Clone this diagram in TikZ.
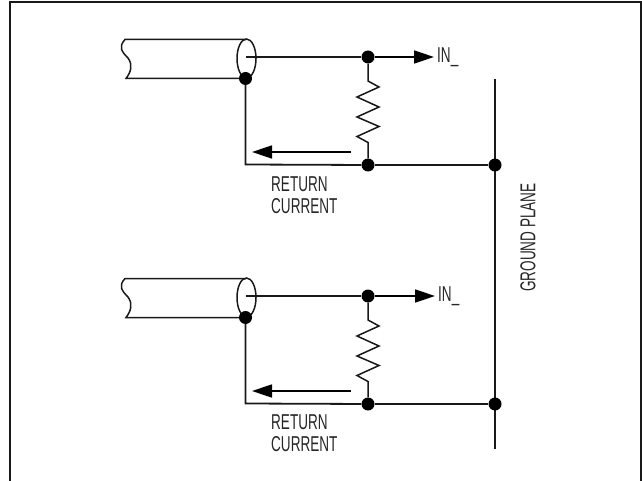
\documentclass[tikz,border=0pt]{standalone}
\usepackage{fontspec}
\usetikzlibrary{arrows.meta}
\newfontfamily\narrowfont[FakeStretch=0.63]{Liberation Sans}
\tikzset{
    dot/.style={circle, fill=black, inner sep=0pt, minimum size=13pt},
    wire/.style={line width=1.8pt, black!90},
    thinwire/.style={line width=1.5pt, black!90},
    feed/.style={-{Triangle[length=20pt, width=13pt]}, line width=1.5pt},
    label/.style={font=\narrowfont\fontsize{21.5}{22}\selectfont, text=black!85, inner sep=0pt}
}

\begin{document}
\begin{tikzpicture}[x=1pt, y=-1pt]
    \useasboundingbox (0,0) rectangle (642,481);
    \def\shift{239}

    % frame, open at the bottom
    \draw[line width=2pt, black!90] (10,481) -- (10,2) -- (641,2) -- (641,481);

    % ground plane
    \coordinate (gndtop) at (495,79);
    \coordinate (gndend) at (495,449);
    \draw[thinwire] (gndtop) -- (gndend);
    \node[label, rotate=90] (gndlabel) at (528,237.5) {GROUND PLANE};

    % upper cable
    \begin{scope}
        \draw[thinwire] (246,39.5) -- (125,39.5) .. controls (118,47) and (122,52) .. (128,58)
            .. controls (133,65) and (131,72) .. (126,78.5) -- (246,78.5);
        \draw[thinwire] (246.5,58.5) ellipse [x radius=9.5pt, y radius=19.5pt];
        \node[dot] (shieldA) at (245.5,78.5) {};
        \node[dot] (sigA) at (368,57) {};
        \node[dot] (loadA) at (368,165) {};
        \node[dot] (gndA) at (495,165) {};
        \coordinate (coreA) at (246,57);
        \coordinate (inA) at (434,57);
        \coordinate (cornerA) at (245.5,164.5);
        \coordinate (retA) at (351,152);
        \coordinate (rettipA) at (252,152);

        \draw[thinwire] (coreA) -- (sigA);
        \draw[feed] (sigA) -- (inA);
        \node[label, anchor=west] (inlabelA) at (437,57) {IN\_};
        \draw[wire] (shieldA) -- (cornerA) -- (loadA);
        \draw[wire] (loadA) -- (gndA);
        \draw[thinwire] (sigA) -- ++(0,24) -- ++(11,6) -- ++(-22,10) -- ++(22,10) -- ++(-22,10)
            -- ++(22,9.5) -- ++(-22,10) -- ++(11,6) -- (loadA);
        \draw[feed] (retA) -- (rettipA);
        \node[label, anchor=north west, align=left] (retlabelA) at (271,176.5) {RETURN\\CURRENT};
    \end{scope}

    % lower cable
    \begin{scope}[yshift=-\shift pt]
        \draw[thinwire] (246,39.5) -- (125,39.5) .. controls (118,47) and (122,52) .. (128,58)
            .. controls (133,65) and (131,72) .. (126,78.5) -- (246,78.5);
        \draw[thinwire] (246.5,58.5) ellipse [x radius=9.5pt, y radius=19.5pt];
        \node[dot] (shieldB) at (245.5,78.5) {};
        \node[dot] (sigB) at (368,57) {};
        \node[dot] (loadB) at (368,165) {};
        \node[dot] (gndB) at (495,165) {};
        \coordinate (coreB) at (246,57);
        \coordinate (inB) at (435,57);
        \coordinate (cornerB) at (245.5,164.5);
        \coordinate (retB) at (351,152);
        \coordinate (rettipB) at (252,152);

        \draw[thinwire] (coreB) -- (sigB);
        \draw[feed] (sigB) -- (inB);
        \node[label, anchor=west] (inlabelB) at (438,57) {IN\_};
        \draw[wire] (shieldB) -- (cornerB) -- (loadB);
        \draw[wire] (loadB) -- (gndB);
        \draw[thinwire] (sigB) -- ++(0,24) -- ++(11,6) -- ++(-22,10) -- ++(22,10) -- ++(-22,10)
            -- ++(22,9.5) -- ++(-22,10) -- ++(11,6) -- (loadB);
        \draw[feed] (retB) -- (rettipB);
        \node[label, anchor=north west, align=left] (retlabelB) at (271,175.5) {RETURN\\CURRENT};
    \end{scope}
\end{tikzpicture}
\end{document}
